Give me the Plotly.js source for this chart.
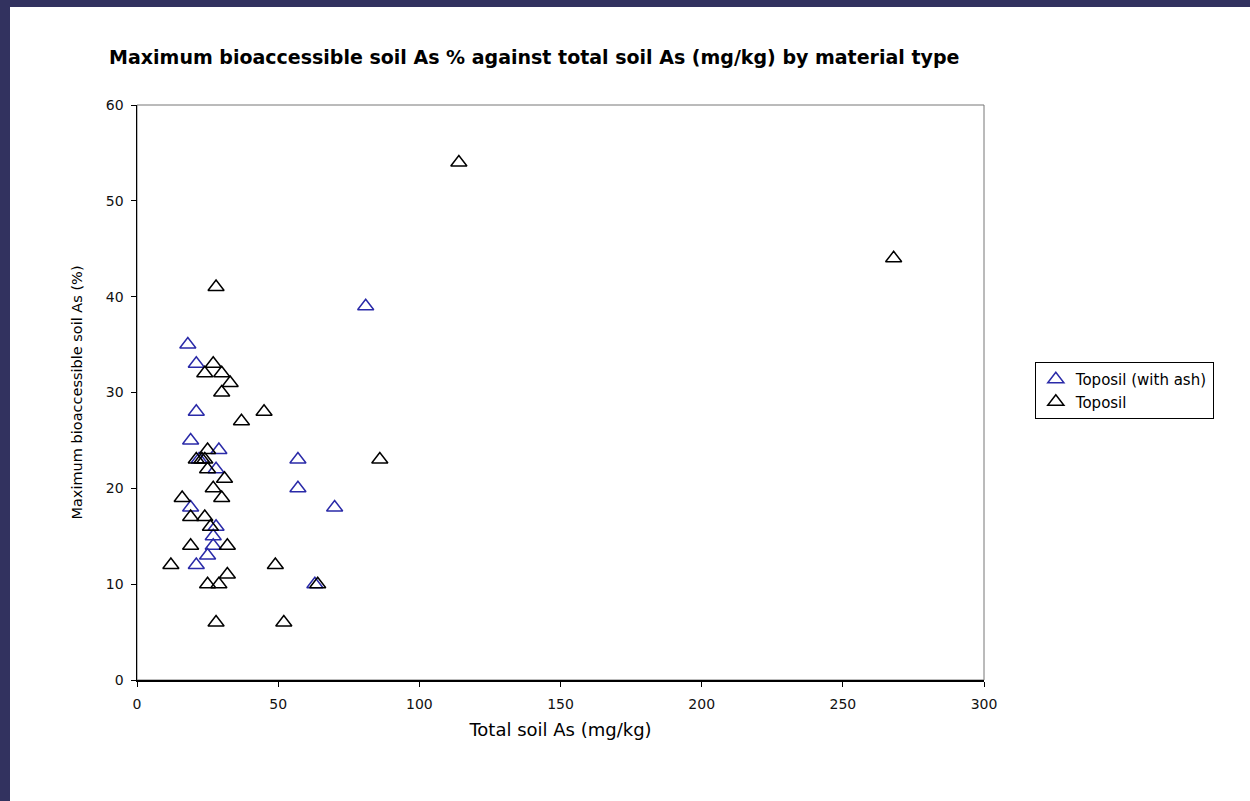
<!DOCTYPE html>
<html>
<head>
<meta charset="utf-8">
<script src="https://cdn.plot.ly/plotly-3.0.1.min.js"></script>
<style>
  html, body { margin:0; padding:0; background:#32325f; width:1250px; height:801px; overflow:hidden; }
  #chart { position:absolute; left:10px; top:7px; width:1240px; height:794px; background:#fff; }
</style>
</head>
<body>
<div id="chart"></div>
<script>
// Toposil (with ash)
const ashX = [81, 18, 21, 21, 19, 29, 22, 57, 57, 70, 19, 28, 28, 27, 27, 25, 21, 63];
const ashY = [39, 35, 33, 28, 25, 24, 23, 23, 20, 18, 18, 22, 16, 15, 14, 13, 12, 10];
// Toposil
const topX = [114, 268, 28, 27, 24, 30, 33, 30, 45, 37, 86, 25, 21, 23, 24, 25, 31, 27, 16, 30, 19, 24, 26, 19, 32, 12, 49, 32, 25, 29, 64, 28, 52];
const topY = [54, 44, 41, 33, 32, 32, 31, 30, 28, 27, 23, 24, 23, 23, 23, 22, 21, 20, 19, 19, 17, 17, 16, 14, 14, 12, 12, 11, 10, 10, 10, 6, 6];
const seriesNames = ['Toposil (with ash)', 'Toposil'];
const xTicks = [0, 50, 100, 150, 200, 250, 300];
const yTicks = [0, 10, 20, 30, 40, 50, 60];

const font = 'DejaVu Sans, Verdana, sans-serif';

const traces = [
  { x: ashX, y: ashY, name: seriesNames[0], type: 'scatter', mode: 'markers',
    marker: { symbol: 'triangle-up-open', size: 14, color: '#2a2aa8', line: { width: 1.5, color: '#2a2aa8' } } },
  { x: topX, y: topY, name: seriesNames[1], type: 'scatter', mode: 'markers',
    marker: { symbol: 'triangle-up-open', size: 14, color: '#000000', line: { width: 1.5, color: '#000000' } } }
];

const layout = {
  width: 1240, height: 794,
  paper_bgcolor: '#ffffff', plot_bgcolor: '#ffffff',
  margin: { l: 127, r: 266, t: 98, b: 121 },
  font: { family: font, color: '#000' },
  title: { text: '<b>Maximum bioaccessible soil As % against total soil As (mg/kg) by material type</b>',
           font: { family: font, size: 19, color: '#000' },
           x: 0.469, xref: 'paper', xanchor: 'center', y: 0.937, yanchor: 'middle' },
  xaxis: {
    range: [0, 300], tickvals: xTicks, ticktext: xTicks.map(String),
    showgrid: false, zeroline: false, showline: true, linecolor: '#000', linewidth: 1.5,
    ticks: 'outside', ticklen: 5, tickcolor: '#000', tickwidth: 1, ticklabelstandoff: 6,
    tickfont: { family: font, size: 14, color: '#111' },
    title: { text: 'Total soil As (mg/kg)', font: { family: font, size: 18, color: '#000' }, standoff: 12 }
  },
  yaxis: {
    range: [0, 60], tickvals: yTicks, ticktext: yTicks.map(String),
    showgrid: false, zeroline: false, showline: true, linecolor: '#000', linewidth: 1.5,
    ticks: 'outside', ticklen: 5, tickcolor: '#000', tickwidth: 1, ticklabelstandoff: 4,
    tickfont: { family: font, size: 14, color: '#111' },
    title: { text: 'Maximum bioaccessible soil As (%)', font: { family: font, size: 14.5, color: '#000' }, standoff: 20 }
  },
  shapes: [
    { type: 'rect', xref: 'paper', yref: 'paper', x0: 0, x1: 1, y0: 0, y1: 1,
      line: { color: '#777', width: 1 }, fillcolor: 'rgba(0,0,0,0)', layer: 'below' }
  ],
  showlegend: true,
  legend: {
    x: 1.06, y: 0.553, xanchor: 'left', yanchor: 'top',
    bordercolor: '#000', borderwidth: 1, bgcolor: '#fff',
    font: { family: font, size: 15, color: '#000' },
    itemwidth: 30, tracegroupgap: 0
  }
};

Plotly.newPlot('chart', traces, layout, { displayModeBar: false, staticPlot: true });
</script>
</body>
</html>
